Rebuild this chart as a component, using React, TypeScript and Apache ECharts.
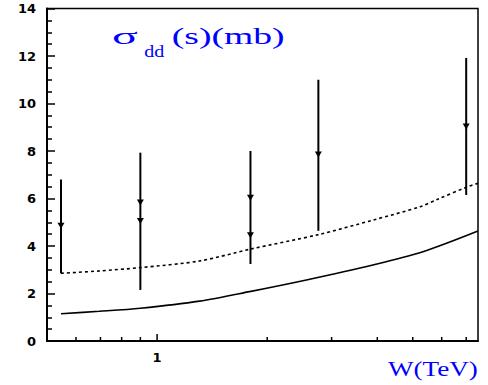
import React, { useEffect, useRef } from "react";
import * as echarts from "echarts";

// Data points (W in TeV) with error bars and arrow markers (mb)
const energies = [0.546, 0.9, 1.8, 2.76, 7.0];
const barHigh = [6.8, 7.93, 8.0, 11.0, 11.92];
const barLow = [2.85, 2.15, 3.24, 4.64, 6.15];
const arrowValues = [[4.85], [5.83, 5.05], [6.03, 4.45], [7.85], [9.03]];

// Solid curve
const solidW = [0.546, 0.695, 0.9, 1.306, 1.79, 2.56, 3.89, 5.33, 7.54];
const solidS = [1.15, 1.25, 1.38, 1.68, 2.08, 2.57, 3.2, 3.76, 4.63];

// Dashed curve
const dashedW = [0.546, 0.695, 0.9, 1.306, 1.8, 2.76, 3.89, 5.23, 5.83, 7.0, 7.54];
const dashedS = [2.85, 2.95, 3.09, 3.37, 3.87, 4.48, 5.09, 5.65, 5.96, 6.47, 6.64];

// Axis ticks
const xLabelValues = [1];
const xMinorValues = [0.6, 0.7, 0.8, 0.9, 2, 3, 4, 5, 6, 7];

const X_MIN = 0.5;
const X_MAX = 7.54;

export default function App() {
  const ref = useRef<HTMLDivElement>(null);
  useEffect(() => {
    if (!ref.current) return;
    const chart = echarts.init(ref.current, undefined, { renderer: "svg" });
    const tickFont = {
      fontFamily: "DejaVu Sans",
      fontWeight: "bold" as const,
      fontSize: 13,
      color: "#000",
    };
    const titleGraphics: any[] = [
      { type: "text", x: 112, y: 36, scaleX: 2.0,
        style: { text: "σ", font: "24px 'Liberation Serif'", fill: "#0000ff", align: "left", verticalAlign: "middle" } },
      { type: "text", x: 144.3, y: 51, scaleX: 1.18,
        style: { text: "dd", font: "17px 'Liberation Serif'", fill: "#0000ff", align: "left", verticalAlign: "middle" } },
      { type: "text", x: 171.7, y: 36, scaleX: 1.57,
        style: { text: "(s)(mb)", font: "24px 'Liberation Serif'", fill: "#0000ff", align: "left", verticalAlign: "middle" } },
      { type: "text", x: 388, y: 369, scaleX: 1.29,
        style: { text: "W(TeV)", font: "21px 'Liberation Serif'", fill: "#0000ff", align: "left", verticalAlign: "middle" } },
    ];
    const option: any = {
      animation: false,
      backgroundColor: "#fff",
      grid: { left: 47, top: 8.5, right: 10, bottom: 44, show: true, borderColor: "#000", borderWidth: 1.5 },
      xAxis: {
        type: "log", logBase: 10, min: X_MIN, max: X_MAX,
        axisLine: { show: true, onZero: false, lineStyle: { color: "#000", width: 2 } },
        axisTick: { show: false },
        axisLabel: { ...tickFont, margin: 10, customValues: xLabelValues },
        splitLine: { show: false },
      },
      yAxis: {
        type: "value", min: 0, max: 14, interval: 2,
        axisLine: { show: true, lineStyle: { color: "#000", width: 2 } },
        axisTick: { show: true, inside: true, length: 8, lineStyle: { color: "#000", width: 1.5 } },
        minorTick: { show: true, splitNumber: 4, length: 5, lineStyle: { color: "#000", width: 1.5 } },
        axisLabel: { ...tickFont, margin: 11 },
        splitLine: { show: false },
      },
      series: [
        { type: "line", data: solidW.map((w, i) => [w, solidS[i]]), showSymbol: false, smooth: 0.3,
          lineStyle: { color: "#000", width: 1.6 } },
        { type: "line", data: dashedW.map((w, i) => [w, dashedS[i]]), showSymbol: false, smooth: 0.3,
          lineStyle: { color: "#000", width: 1.6, type: [3, 3] } },
        {
          type: "custom",
          data: energies.map((e, i) => [e, barLow[i], barHigh[i]]),
          encode: { x: 0, y: [1, 2] },
          renderItem: (params: any, api: any) => {
            const x = api.value(0);
            const p1 = api.coord([x, api.value(2)]);
            const p2 = api.coord([x, api.value(1)]);
            const children: any[] = [
              { type: "line", shape: { x1: p1[0], y1: p1[1], x2: p2[0], y2: p2[1] }, style: { stroke: "#000", lineWidth: 2 } },
            ];
            arrowValues[params.dataIndex].forEach((v) => {
              const c = api.coord([x, v]);
              children.push({
                type: "polygon",
                shape: { points: [[c[0] - 3.5, c[1] - 3], [c[0] + 3.5, c[1] - 3], [c[0], c[1] + 3]] },
                style: { fill: "#000" },
              });
            });
            return { type: "group", children };
          },
        },
      ],
      graphic: titleGraphics,
    };
    chart.setOption(option);

    // x-axis ticks placed through the axis scale
    const tickGraphics: any[] = [];
    const addTick = (v: number, len: number) => {
      const p = chart.convertToPixel({ xAxisIndex: 0, yAxisIndex: 0 }, [v, 0]) as number[];
      if (!p || !isFinite(p[0])) return;
      tickGraphics.push({
        type: "line", z: 100,
        shape: { x1: p[0], y1: p[1] - 1, x2: p[0], y2: p[1] - len },
        style: { stroke: "#000", lineWidth: 1.5 },
      });
    };
    xLabelValues.forEach((v) => addTick(v, 7));
    xMinorValues.forEach((v) => addTick(v, 4));
    chart.setOption({ graphic: [...titleGraphics, ...tickGraphics] });

    return () => chart.dispose();
  }, []);
  return <div ref={ref} style={{ position: "absolute", left: 0, top: 0, width: 488, height: 385 }} />;
}
